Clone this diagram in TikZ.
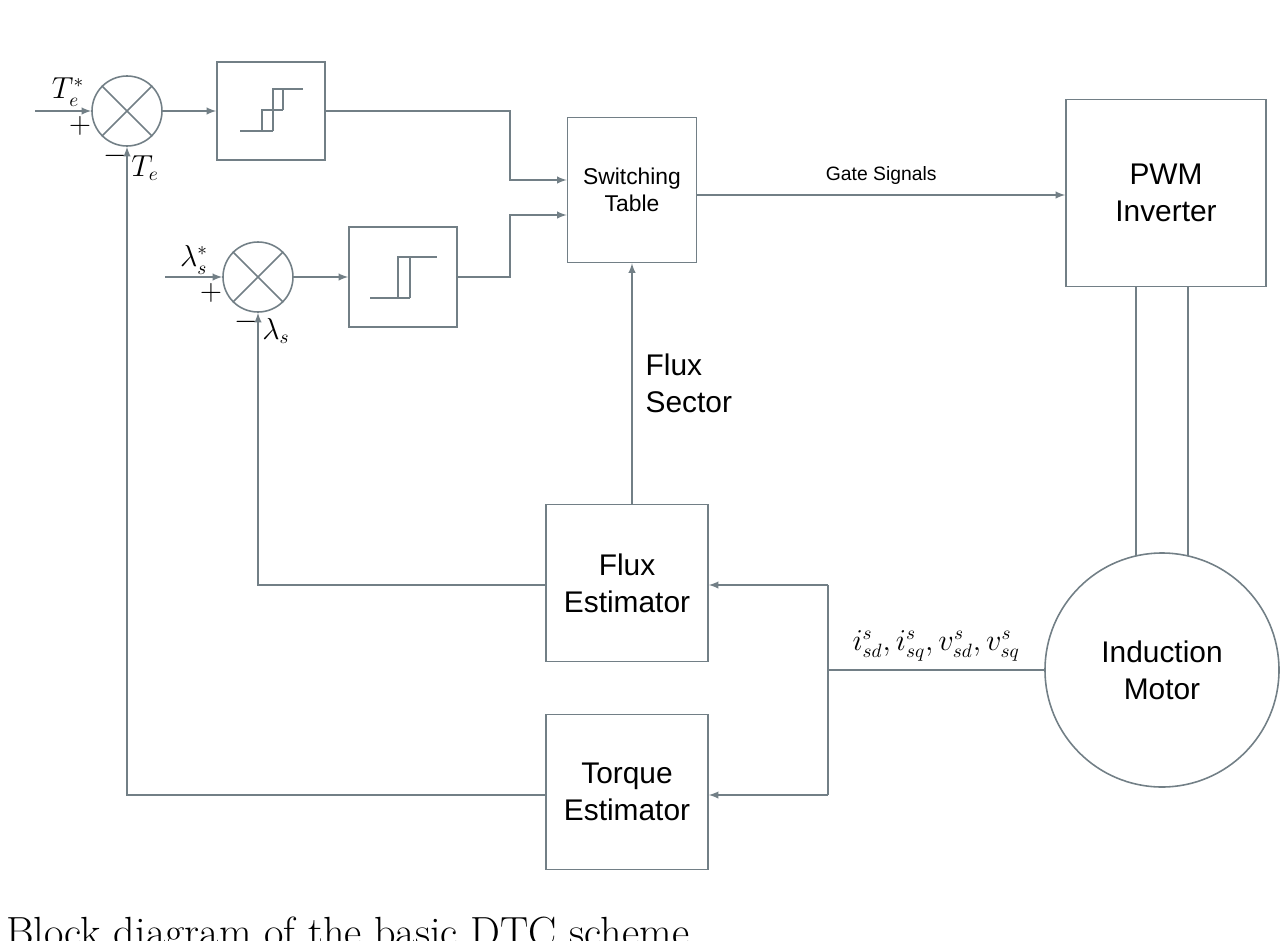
\documentclass[tikz,border=0pt]{standalone}
\usepackage{fontspec}
\setsansfont{Liberation Sans}
\usepackage{amsmath}
\usetikzlibrary{arrows}

\begin{document}
\begin{tikzpicture}[x=0.02cm,y=-0.02cm]
      \tikzstyle{wire}=[draw=black!60!cyan!40!gray, line width=0.9pt]
      \tikzstyle{feed}=[wire, -latex]
      \tikzstyle{block}=[wire, draw, inner sep=0pt, font=\sffamily\fontsize{13}{15}\selectfont, align=center]
      \tikzstyle{summer}=[wire, draw, circle, minimum size=70*0.02cm, inner sep=0pt]
      \tikzstyle{sym}=[font=\fontsize{16}{18}\selectfont]

      \useasboundingbox (0,0) rectangle (1288,940);

      % summing junctions
      \node [summer] (sumT) at (127,111) {};
      \draw [wire] (sumT.north west) -- (sumT.south east) (sumT.north east) -- (sumT.south west);
      \node [summer] (sumL) at (258,277) {};
      \draw [wire] (sumL.north west) -- (sumL.south east) (sumL.north east) -- (sumL.south west);

      % hysteresis blocks
      \node [block, minimum width=108*0.02cm, minimum height=98*0.02cm] (hystT) at (271,111) {};
      \draw [wire] (240,131) -- (273,131) (262,131) -- (262,110) -- (283,110)
                   (273,131) -- (273,89) -- (303,89) (283,110) -- (283,89);
      \node [block, minimum width=108*0.02cm, minimum height=100*0.02cm] (hystL) at (403,277) {};
      \draw [wire] (370,298) -- (410,298) (398,298) -- (398,257) -- (437,257) (410,298) -- (410,257);

      % main blocks
      \node [block, minimum width=129*0.02cm, minimum height=145*0.02cm] (table) at (632,190) {Switching\\Table};
      \node [block, minimum width=200*0.02cm, minimum height=187*0.02cm, font=\sffamily\fontsize{17}{21}\selectfont] (pwm) at (1166,193) {PWM\\Inverter};
      \node [block, minimum width=162*0.02cm, minimum height=157*0.02cm, font=\sffamily\fontsize{17}{21}\selectfont] (flux) at (627,583) {Flux\\Estimator};
      \node [block, minimum width=162*0.02cm, minimum height=155*0.02cm, font=\sffamily\fontsize{17}{21}\selectfont] (torque) at (627,792) {Torque\\Estimator};
      \node [block, circle, minimum size=234*0.02cm, font=\sffamily\fontsize{17}{21}\selectfont] (motor) at (1162,670) {Induction\\Motor};

      % references
      \draw [feed] (35,111) -- (sumT.west);
      \draw [feed] (165,277) -- (sumL.west);
      \node [sym] at (68,92) {$T_e^*$};
      \node [sym] at (80,126) {$+$};
      \node [sym] at (115,156) {$-$};
      \node [sym] at (145,168) {$T_e$};
      \node [sym] at (194,260) {$\lambda_s^*$};
      \node [sym] at (211,293) {$+$};
      \node [sym] at (246,322) {$-$};
      \node [sym] at (276,331) {$\lambda_s$};

      % forward path
      \draw [feed] (sumT.east) -- (hystT.west);
      \draw [feed] (sumL.east) -- (hystL.west);
      \draw [feed] (hystT.east) -- (510,111) -- (510,180) -- (table.west |- 0,180);
      \draw [feed] (hystL.east) -- (510,277) -- (510,215) -- (table.west |- 0,215);
      \draw [feed] (table.east |- 0,195) -- node [above=2pt, font=\sffamily\fontsize{11}{13}\selectfont] {Gate Signals} (pwm.west |- 0,195);
      \draw [wire] (1136,287) -- (1136,556) (1188,287) -- (1188,556);

      % feedback
      \draw [wire] (motor.west) -- node [above=1pt, sym] {$i_{sd}^s,i_{sq}^s,v_{sd}^s,v_{sq}^s$} (828,670);
      \draw [feed] (828,585) -- (828,795) (828,585) -- (flux.east |- 0,585);
      \draw [feed] (828,795) -- (torque.east |- 0,795);
      \draw [feed] (flux.west |- 0,585) -- (sumL.south |- 0,585) -- (sumL.south);
      \draw [feed] (torque.west |- 0,795) -- (sumT.south |- 0,795) -- (sumT.south);
      \draw [feed] (table.south |- flux.north) -- node [right=4pt, align=left, font=\sffamily\fontsize{17}{21}\selectfont] {Flux\\Sector} (table.south);

      \node [anchor=base west, font=\fontsize{24}{28}\selectfont] (caption) at (0,946) {Block diagram of the basic DTC scheme};
    \end{tikzpicture}
\end{document}
